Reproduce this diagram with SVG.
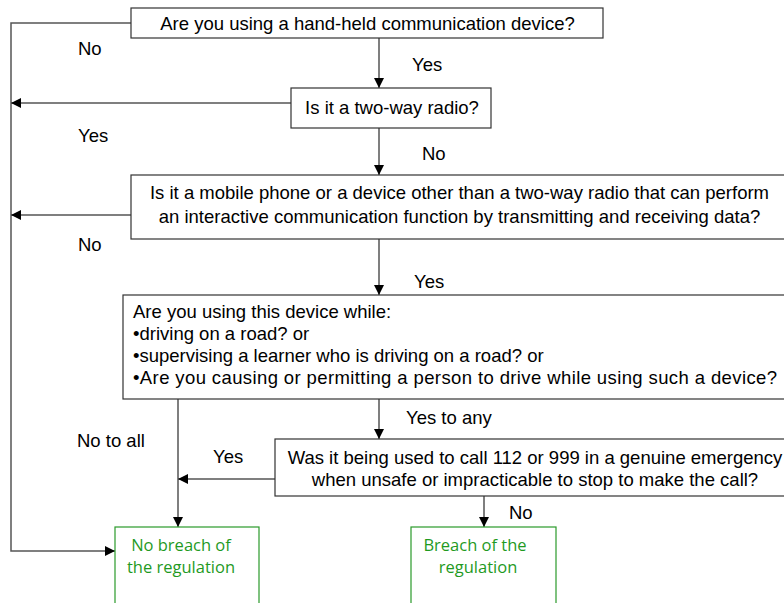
<svg xmlns="http://www.w3.org/2000/svg" width="784" height="603" viewBox="0 0 784 603">
<defs>
<marker id="ah" viewBox="0 0 10 10" refX="10" refY="5" markerWidth="10" markerHeight="10" markerUnits="userSpaceOnUse" orient="auto">
<path d="M0,0 L10,5 L0,10 Z" fill="#000"/>
</marker>
</defs>
<style>
.box{fill:#fff;stroke:#333;stroke-width:1.2}
.gbox{fill:#fff;stroke:#2a9a2a;stroke-width:1.2}
.t{font-family:"Liberation Sans",Arial,sans-serif;font-size:18.5px;fill:#000}
.g{font-family:"Open Sans","Noto Sans",sans-serif;font-size:16.5px;fill:#1f9a1f}
.c{stroke:#555;stroke-width:1.5;fill:none}
.a{marker-end:url(#ah)}
</style>
<rect width="784" height="603" fill="#fff"/>
<g id="connectors">
<path class="c a" d="M131,23 H11 V551 H115"/>
<path class="c a" d="M379,38 V88"/>
<path class="c a" d="M291,103 H11"/>
<path class="c a" d="M379,128 V175"/>
<path class="c a" d="M131,215 H11"/>
<path class="c a" d="M379,239 V295"/>
<path class="c a" d="M178,399 V527"/>
<path class="c a" d="M379,399 V439"/>
<path class="c a" d="M275,479 H178"/>
<path class="c a" d="M484,496 V527"/>
<text class="t" x="78" y="55">No</text>
<text class="t" x="412" y="71">Yes</text>
<text class="t" x="78" y="142">Yes</text>
<text class="t" x="422" y="160">No</text>
<text class="t" x="78" y="251">No</text>
<text class="t" x="414" y="288">Yes</text>
<text class="t" x="406" y="424">Yes to any</text>
<text class="t" x="77" y="447">No to all</text>
<text class="t" x="213" y="463">Yes</text>
<text class="t" x="509" y="519">No</text>
</g>
<g id="n1">
<rect class="box" x="131" y="8" width="472" height="30"/>
<text class="t" x="367.5" y="30" text-anchor="middle">Are you using a hand-held communication device?</text>
</g>
<g id="n2">
<rect class="box" x="291" y="88" width="200" height="40"/>
<text class="t" x="392" y="114" text-anchor="middle">Is it a two-way radio?</text>
</g>
<g id="n3">
<rect class="box" x="131" y="175" width="656" height="64"/>
<text class="t" x="459.5" y="199" text-anchor="middle">Is it a mobile phone or a device other than a two-way radio that can perform</text>
<text class="t" x="459.5" y="223" text-anchor="middle">an interactive communication function by transmitting and receiving data?</text>
</g>
<g id="n4">
<rect class="box" x="123" y="295" width="670" height="104"/>
<text class="t" x="133" y="318">Are you using this device while:</text>
<text class="t" x="133" y="340">•driving on a road? or</text>
<text class="t" x="133" y="362">•supervising a learner who is driving on a road? or</text>
<text class="t" x="133" y="384" textLength="644" lengthAdjust="spacing">•Are you causing or permitting a person to drive while using such a device?</text>
</g>
<g id="n5">
<rect class="box" x="275" y="439" width="520" height="57"/>
<text class="t" x="535" y="464" text-anchor="middle">Was it being used to call 112 or 999 in a genuine emergency</text>
<text class="t" x="535" y="486" text-anchor="middle">when unsafe or impracticable to stop to make the call?</text>
</g>
<g id="n6">
<rect class="gbox" x="115" y="527" width="144" height="90"/>
<text class="g" x="181" y="551" text-anchor="middle">No breach of</text>
<text class="g" x="181" y="573" text-anchor="middle">the regulation</text>
</g>
<g id="n7">
<rect class="gbox" x="411" y="527" width="145" height="90"/>
<text class="g" x="475" y="551" text-anchor="middle">Breach of the</text>
<text class="g" x="478" y="573" text-anchor="middle">regulation</text>
</g>
</svg>
